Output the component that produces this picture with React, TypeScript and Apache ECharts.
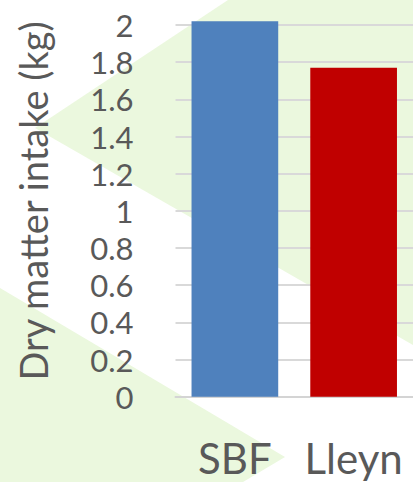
import React, { useEffect, useRef } from "react";
import * as echarts from "echarts";

// Breeds and their daily dry matter intake
const categories = ["SBF", "Lleyn"];
const intakeKg = [2.02, 1.77];
const barColors = ["#4f81bd", "#c00000"];
const yTicks = [0, 0.2, 0.4, 0.6, 0.8, 1, 1.2, 1.4, 1.6, 1.8, 2];
const yTitle = "Dry matter intake (kg)";

const W = 413;
const H = 482;
const FONT = "Lato, 'Open Sans', sans-serif";
const TEXT = "#595959";
const GREEN = "#ebf8de";

export default function App() {
  const ref = useRef<HTMLDivElement>(null);

  useEffect(() => {
    document.body.style.margin = "0";
    const chart = echarts.init(ref.current!, null, { renderer: "svg" });
    chart.setOption({
      animation: false,
      backgroundColor: "#ffffff",
      graphic: [
        {
          type: "polygon",
          z: -1,
          silent: true,
          shape: { points: [[35, 128], [228, 0], [W, 0], [W, 345]] },
          style: { fill: GREEN },
        },
        {
          type: "polygon",
          z: -1,
          silent: true,
          shape: { points: [[0, 288], [285, 457], [243, H], [0, H]] },
          style: { fill: GREEN },
        },
        {
          type: "text",
          x: 33,
          y: 201,
          rotation: Math.PI / 2,
          style: {
            text: yTitle,
            fontFamily: FONT,
            fontSize: 38,
            fill: TEXT,
            align: "center",
            verticalAlign: "middle",
          },
        },
      ],
      grid: { left: 175.5, right: -4.5, top: 25, bottom: 85.3 },
      xAxis: {
        type: "category",
        data: categories,
        axisLine: { show: true, lineStyle: { color: "#d4d4d4", width: 2 } },
        axisTick: { show: false },
        axisLabel: {
          interval: 0,
          color: TEXT,
          fontFamily: FONT,
          fontSize: 42,
          margin: 40,
        },
      },
      yAxis: {
        type: "value",
        min: 0,
        max: 2,
        interval: 0.2,
        axisLine: { show: false },
        axisTick: { show: false },
        splitLine: { lineStyle: { color: "#d9d9d9", width: 2 } },
        axisLabel: {
          color: TEXT,
          fontFamily: FONT,
          fontSize: 31,
          lineHeight: 28,
          margin: 42,
          formatter: (v: number) => {
            const t = yTicks.find((k) => Math.abs(k - v) < 1e-9);
            return t === undefined ? "" : String(t);
          },
        },
      },
      series: [
        {
          type: "bar",
          clip: false,
          barCategoryGap: "27%",
          data: intakeKg.map((v, i) => ({ value: v, itemStyle: { color: barColors[i] } })),
        },
      ],
    });
    return () => chart.dispose();
  }, []);

  return <div ref={ref} style={{ width: W, height: H }} />;
}
